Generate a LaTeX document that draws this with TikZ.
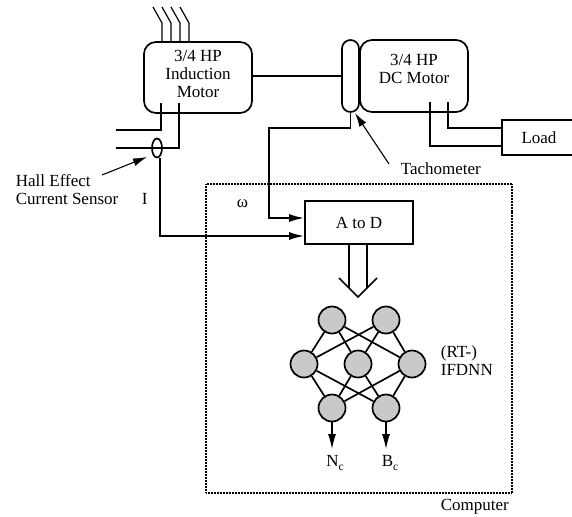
\documentclass[tikz,border=0pt]{standalone}
\usepackage{fontspec}
\setmainfont{Liberation Serif}
\usetikzlibrary{arrows.meta,shapes.geometric}
\newcommand{\subc}{\raisebox{-3.5pt}{\fontsize{11.5}{12}\selectfont c}}

\begin{document}
\begin{tikzpicture}[
  x=1pt, y=-1pt, font=\fontsize{17}{18}\selectfont, line width=1.7pt,
  every node/.style={inner sep=0pt},
  lab/.style={align=left, anchor=west},
  motor/.style={draw, rounded corners=12pt, align=center, minimum width=108pt, minimum height=71pt},
  blockbox/.style={draw, align=center},
  neuron/.style={circle, draw, fill=gray!42, minimum size=27pt},
  sig/.style={-{Latex[length=15pt,width=8pt]}}
]
\useasboundingbox (0,0) rectangle (572,516);

% computer frame goes first, everything else sits on it
\node[draw, dash pattern=on 1pt off 0.5pt, line width=1.1pt, minimum width=306pt, minimum height=309pt] (computer) at (359,338.5) {};

\node[motor] (induction) at (198,77.5) {3/4 HP\\Induction\\Motor\\[-10pt]};
\node[motor, minimum height=72pt] (dc) at (414,76) {3/4 HP\\DC Motor\\[-3pt]};
\node[draw, rounded corners=8.5pt, minimum width=17pt, minimum height=72pt] (tacho) at (350.5,76) {};
\node[blockbox, minimum width=74pt, minimum height=35pt] (load) at (539,137.5) {Load};
\node[blockbox, minimum width=108pt, minimum height=43pt] (atod) at (359,222.5) {A to D};
\node[draw, ellipse, minimum width=10pt, minimum height=19pt] (hall) at (157,148) {};

% labels
\node[lab] (halltxt) at (15,190) {Hall Effect\\Current Sensor};
\node[lab] (itxt) at (141,199) {I};
\node[lab] (wtxt) at (236,204) {ω};
\node[lab] (tachotxt) at (400,169) {Tachometer};
\node[lab] (nntxt) at (440,361) {(RT-)\\IFDNN};
\node (nc) at (335,463) {N\subc};
\node (bc) at (390,463) {B\subc};
\node[lab] (comptxt) at (440,507) {Computer};

% supply lines
\foreach \n/\px in {1/162,2/171,3/180,4/189} {
  \coordinate (in\n) at (\px,23);
  \coordinate (top\n) at (\px-9,7);
  \draw[line width=1.2pt] (top\n) -- (in\n) -- (in\n |- induction.north);
}

\coordinate (stuba) at (161,103);
\coordinate (stubb) at (179,103);
\coordinate (enda) at (116,130);
\coordinate (endb) at (116,148);
\draw (stuba) |- (enda);
\draw (stubb) |- (endb);
\coordinate (cornerI) at (160,236);
\draw[sig] (hall.south -| cornerI) -- (cornerI) -- (cornerI -| atod.west);

\draw (induction.east |- 0,76) -- (tacho.west);
\coordinate (cornerw) at (269,128);
\coordinate (tw) at (269,218);
\draw[sig] (tacho.south) |- (cornerw) -- (tw) -- (tw -| atod.west);

\coordinate (stubc) at (430,102);
\coordinate (stubd) at (448,102);
\draw (stubc) |- (load.west |- 0,146);
\draw (stubd) |- (load.west |- 0,128);

% pointers
\coordinate (hallfrom) at (102,175);
\coordinate (halltip) at (147,157);
\coordinate (tachofrom) at (389,164);
\coordinate (tachotip) at (355,113);
\draw[-{Latex[length=14pt,width=8pt]}, line width=1.1pt] (hallfrom) -- (halltip);
\draw[-{Latex[length=14pt,width=8pt]}, line width=1.1pt] (tachofrom) -- (tachotip);

% open arrow into the net
\coordinate (tip) at (358,297);
\coordinate (busl) at (349,288);
\coordinate (busr) at (367,288);
\coordinate (headl) at (339,278);
\coordinate (headr) at (377,278);
\draw (busl |- atod.south) -- (busl);
\draw (busr |- atod.south) -- (busr);
\draw (headl) -- (tip) -- (headr);

% the net
\foreach \n/\px/\py in {a/332/320,b/386/320,c/304/364,d/358/364,e/412/364,f/332/408,g/386/408}
  \node[neuron] (\n) at (\px,\py) {};
\foreach \u in {a,b,f,g}
  \foreach \v in {c,d,e} \draw (\u) -- (\v);
\coordinate (ncend) at (332,449);
\coordinate (bcend) at (386,449);
\draw[sig, line width=1.2pt] (f) -- (ncend);
\draw[sig, line width=1.2pt] (g) -- (bcend);
\end{tikzpicture}
\end{document}
